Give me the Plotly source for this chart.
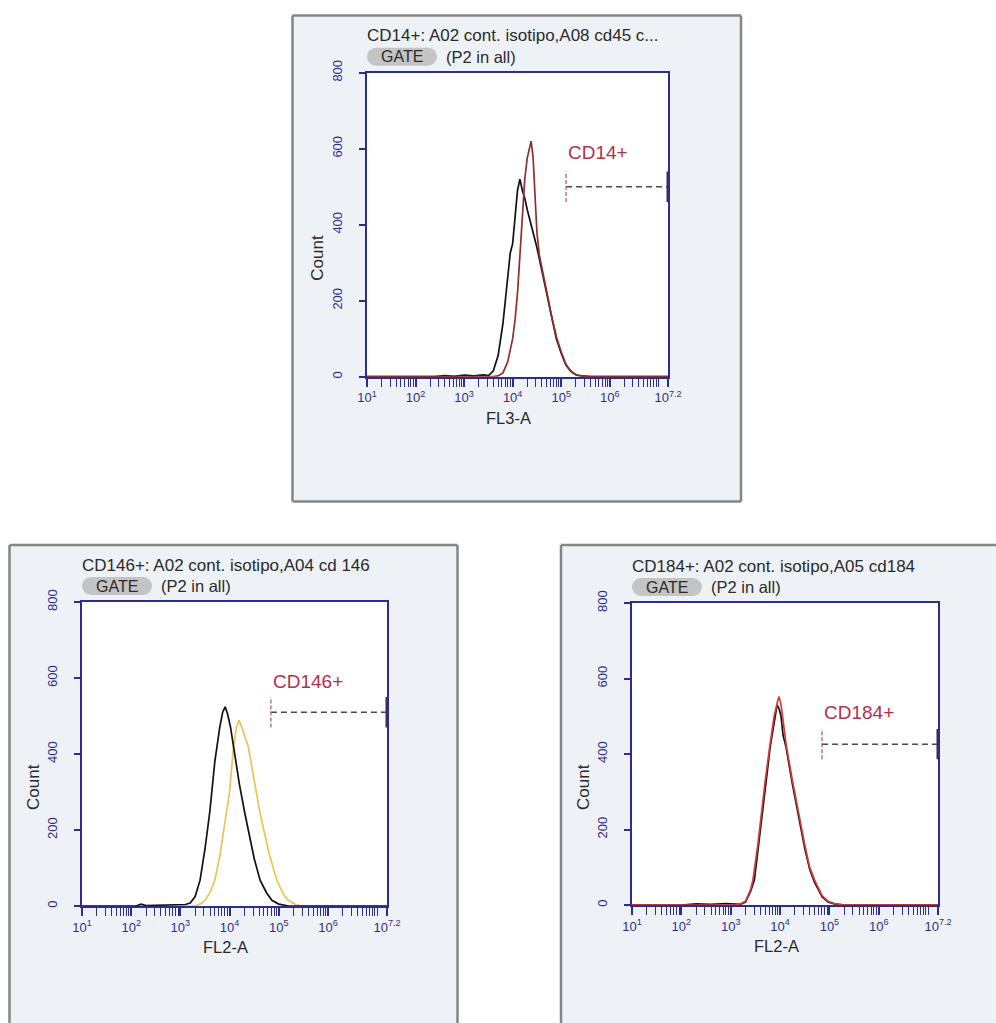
import plotly.graph_objects as go

# ---------------- data (log10 of channel value, event count) ----------------
TOP_ISO_LOG = [1.0, 2.4, 2.6, 2.8, 3.0, 3.2, 3.4, 3.5, 3.6, 3.7, 3.8, 3.9, 3.95, 4.0, 4.05, 4.1, 4.15,
               4.2, 4.25, 4.3, 4.4, 4.5, 4.6, 4.7, 4.8, 4.9, 5.0, 5.1, 5.2, 5.3, 5.4, 5.6, 7.2]
TOP_ISO_CNT = [0, 0, 3, 1, 4, 2, 5, 3, 15, 55, 140, 260, 325, 350, 420, 490, 520,
               490, 470, 440, 390, 340, 280, 220, 155, 100, 62, 30, 14, 5, 2, 0, 0]
TOP_CD14_LOG = [1.0, 3.6, 3.7, 3.8, 3.9, 4.0, 4.05, 4.1, 4.15, 4.2, 4.25, 4.3, 4.35, 4.38, 4.42,
                4.46, 4.5, 4.55, 4.6, 4.7, 4.8, 4.9, 5.0, 5.1, 5.2, 5.3, 5.4, 5.6, 7.2]
TOP_CD14_CNT = [0, 0, 2, 10, 40, 100, 150, 220, 320, 410, 520, 575, 600, 620, 580,
                480, 380, 320, 285, 225, 160, 105, 65, 32, 15, 5, 2, 0, 0]

BL_ISO_LOG = [1.0, 2.1, 2.2, 2.3, 2.5, 2.8, 3.0, 3.1, 3.2, 3.3, 3.4, 3.5, 3.6, 3.7, 3.8, 3.86, 3.91,
              3.96, 4.02, 4.08, 4.2, 4.31, 4.4, 4.5, 4.62, 4.75, 4.86, 5.0, 5.2, 7.2]
BL_ISO_CNT = [0, 0, 5, 1, 2, 3, 2, 4, 8, 25, 68, 150, 250, 380, 470, 510, 524,
              505, 470, 419, 320, 244, 185, 125, 68, 35, 15, 5, 0, 0]
BL_CD146_LOG = [1.0, 3.3, 3.4, 3.5, 3.6, 3.7, 3.8, 3.94, 4.0, 4.08, 4.14, 4.19, 4.25, 4.38, 4.5,
                4.62, 4.8, 4.96, 5.1, 5.19, 5.35, 5.5, 7.2]
BL_CD146_CNT = [0, 0, 5, 15, 35, 68, 130, 244, 300, 419, 470, 489, 470, 419, 330,
                244, 140, 68, 30, 15, 3, 0, 0]

BR_ISO_LOG = [1.0, 2.0, 2.3, 2.6, 2.9, 3.1, 3.2, 3.3, 3.4, 3.48, 3.57, 3.64, 3.72, 3.8, 3.88, 3.94,
              3.98, 4.02, 4.06, 4.12, 4.25, 4.36, 4.5, 4.6, 4.7, 4.85, 4.97, 5.1, 5.3, 7.2]
BR_ISO_CNT = [0, 0, 3, 2, 4, 3, 2, 8, 35, 66, 160, 243, 330, 419, 490, 530,
              520, 500, 450, 419, 320, 243, 150, 95, 60, 22, 8, 3, 0, 0]
BR_CD184_LOG = [1.0, 3.1, 3.2, 3.3, 3.4, 3.45, 3.55, 3.62, 3.7, 3.79, 3.88, 3.95, 3.98, 4.02, 4.08,
                4.13, 4.25, 4.37, 4.5, 4.6, 4.7, 4.85, 4.97, 5.1, 5.3, 7.2]
BR_CD184_CNT = [0, 0, 3, 10, 40, 66, 160, 243, 330, 419, 500, 540, 552, 530, 470,
                419, 330, 243, 160, 100, 66, 25, 10, 4, 0, 0]

GATE_NAMES = ["CD14+", "CD146+", "CD184+"]
GATE_START_LOG = [5.1, 4.84, 4.85]
GATE_LEVEL = [500, 510, 426]
GATE_LABEL_COUNT = [590, 590, 510]

TITLES = ["CD14+: A02 cont. isotipo,A08 cd45 c...",
          "CD146+: A02 cont. isotipo,A04 cd 146",
          "CD184+: A02 cont. isotipo,A05 cd184"]
X_TITLES = ["FL3-A", "FL2-A", "FL2-A"]
Y_TICKS = [0, 200, 400, 600, 800]
X_LABELED_DECADES = [1, 2, 3, 4, 5, 6]
X_MAX_LOG = 7.2

# ---------------- layout geometry (pixels) ----------------
W, H = 996, 1023
def PX(x): return x / W
def PY(y): return 1 - y / H

NAVY = "#2e2e8a"
PANEL_FILL = "#eef2f6"
BORDER = "#858585"
FONT = "Liberation Sans, Arial"

panels = [
    dict(box=(292.5, 15.5, 741, 501.5), sides="ltrb", plot=(367, 72.7, 668, 376.7),
         data=[(TOP_ISO_LOG, TOP_ISO_CNT, "#111111"), (TOP_CD14_LOG, TOP_CD14_CNT, "#8e2f2f")]),
    dict(box=(9.5, 545, 457.5, 1023), sides="ltr", plot=(82, 602, 387, 906),
         data=[(BL_CD146_LOG, BL_CD146_CNT, "#e6c55a"), (BL_ISO_LOG, BL_ISO_CNT, "#111111")]),
    dict(box=(561, 545, 996, 1023), sides="lt", plot=(632, 603, 938, 905),
         data=[(BR_ISO_LOG, BR_ISO_CNT, "#111111"), (BR_CD184_LOG, BR_CD184_CNT, "#d23a3a")]),
]

fig = go.Figure()
shapes = []
annotations = []

major_vals = [10 ** d for d in X_LABELED_DECADES] + [10 ** X_MAX_LOG]
major_text = ["10<sup>%d</sup>" % d for d in X_LABELED_DECADES] + ["10<sup>7.2</sup>"]
minor_vals = [m * 10 ** d for d in X_LABELED_DECADES for m in range(2, 10)] + [10 ** 7]

def pline(x0, y0, x1, y1, color, width):
    shapes.append(dict(type="line", xref="paper", yref="paper", layer="below",
                       x0=PX(x0), x1=PX(x1), y0=PY(y0), y1=PY(y1),
                       line=dict(color=color, width=width)))

for i, p in enumerate(panels):
    n = "" if i == 0 else str(i + 1)
    xa, ya = "x" + n, "y" + n
    bx0, by0, bx1, by1 = p["box"]
    px0, py0, px1, py1 = p["plot"]

    # panel background + border
    shapes.append(dict(type="rect", xref="paper", yref="paper", layer="below",
                       x0=PX(bx0), x1=PX(bx1), y0=PY(by1), y1=PY(by0),
                       fillcolor=PANEL_FILL, line=dict(width=0)))
    if "l" in p["sides"]:
        pline(bx0, by0, bx0, by1, BORDER, 2.5)
    if "t" in p["sides"]:
        pline(bx0, by0, bx1, by0, BORDER, 2.5)
    if "r" in p["sides"]:
        pline(bx1, by0, bx1, by1, BORDER, 2.5)
    if "b" in p["sides"]:
        pline(bx0, by1, bx1, by1, BORDER, 2.5)
    shapes.append(dict(type="rect", xref="paper", yref="paper", layer="below",
                       x0=PX(px0), x1=PX(px1), y0=PY(py1), y1=PY(py0),
                       fillcolor="white", line=dict(width=0)))

    # histogram traces
    for logs, cnts, col in p["data"]:
        fig.add_trace(go.Scatter(x=[10 ** v for v in logs], y=cnts, mode="lines",
                                 line=dict(color=col, width=1.7), xaxis=xa, yaxis=ya,
                                 showlegend=False, hoverinfo="skip"))

    # gate
    g0 = 10 ** GATE_START_LOG[i]
    g1 = 10 ** X_MAX_LOG
    lvl = GATE_LEVEL[i]
    fig.add_trace(go.Scatter(x=[g0, g1], y=[lvl, lvl], mode="lines",
                             line=dict(color="#4a4a4a", width=1.4, dash="6px,4px"),
                             xaxis=xa, yaxis=ya, showlegend=False, hoverinfo="skip"))
    fig.add_trace(go.Scatter(x=[g0, g0], y=[lvl - 40, lvl + 40], mode="lines",
                             line=dict(color="#b85a6a", width=1.3, dash="4px,2px"),
                             xaxis=xa, yaxis=ya, showlegend=False, hoverinfo="skip"))
    fig.add_trace(go.Scatter(x=[g1, g1], y=[lvl - 40, lvl + 40], mode="lines",
                             line=dict(color="#3a2a5a", width=3),
                             xaxis=xa, yaxis=ya, showlegend=False, hoverinfo="skip"))
    annotations.append(dict(xref=xa, yref=ya, x=GATE_START_LOG[i], y=GATE_LABEL_COUNT[i],
                            text=GATE_NAMES[i], showarrow=False, xanchor="left", yanchor="middle",
                            xshift=0, font=dict(family=FONT, size=19, color="#b0304e")))

    # axes
    fig.update_layout(**{
        "xaxis" + n: dict(domain=[PX(px0), PX(px1)], anchor=ya, type="log",
                          range=[1, X_MAX_LOG], tickmode="array", tickvals=major_vals,
                          ticktext=major_text, ticks="outside", ticklen=8, tickwidth=1.5,
                          tickcolor=NAVY, tickangle=0, showgrid=False, zeroline=False,
                          showline=True, mirror=True, linecolor=NAVY, linewidth=2,
                          automargin=False,
                          tickfont=dict(family=FONT, size=13, color=NAVY),
                          minor=dict(tickmode="array", tickvals=minor_vals, ticks="outside",
                                     ticklen=8, tickwidth=1.2, tickcolor=NAVY, showgrid=False)),
        "yaxis" + n: dict(domain=[PY(py1), PY(py0)], anchor=xa, range=[0, 800],
                          tickmode="array", tickvals=Y_TICKS, ticks="outside", ticklen=6,
                          tickwidth=1.5, tickcolor=NAVY, tickangle=-90, showgrid=False,
                          zeroline=False, showline=True, mirror=True, linecolor=NAVY,
                          linewidth=2, ticklabelstandoff=12, automargin=False,
                          tickfont=dict(family=FONT, size=13, color=NAVY)),
    })

    # texts
    annotations.append(dict(xref="paper", yref="paper", x=PX(px0 - 2), y=PY(py0 - 37),
                            text=TITLES[i], showarrow=False, xanchor="left", yanchor="middle",
                            font=dict(family=FONT, size=17, color="#2a2a2a")))
    # GATE pill
    gy0, gy1 = py0 - 25, py0 - 7
    gx0 = px0
    shapes.append(dict(type="circle", xref="paper", yref="paper", x0=PX(gx0), x1=PX(gx0 + 18),
                       y0=PY(gy1), y1=PY(gy0), fillcolor="#c4c4c4", line=dict(width=0)))
    shapes.append(dict(type="circle", xref="paper", yref="paper", x0=PX(gx0 + 52), x1=PX(gx0 + 70),
                       y0=PY(gy1), y1=PY(gy0), fillcolor="#c4c4c4", line=dict(width=0)))
    shapes.append(dict(type="rect", xref="paper", yref="paper", x0=PX(gx0 + 9), x1=PX(gx0 + 61),
                       y0=PY(gy1), y1=PY(gy0), fillcolor="#c4c4c4", line=dict(width=0)))
    annotations.append(dict(xref="paper", yref="paper", x=PX(gx0 + 35), y=PY((gy0 + gy1) / 2),
                            text="GATE", showarrow=False, xanchor="center", yanchor="middle",
                            font=dict(family=FONT, size=16, color="#2a2a2a")))
    annotations.append(dict(xref="paper", yref="paper", x=PX(gx0 + 77), y=PY((gy0 + gy1) / 2),
                            text="(P2 in all)", showarrow=False, xanchor="left", yanchor="middle",
                            font=dict(family=FONT, size=16.5, color="#2a2a2a")))
    # axis titles
    annotations.append(dict(xref="paper", yref="paper", x=PX(px0 - 49), y=PY((py0 + py1) / 2 + 33),
                            text="Count", showarrow=False, textangle=-90, xanchor="center",
                            yanchor="middle",
                            font=dict(family=FONT, size=17, color="#2a2a2a")))
    annotations.append(dict(xref="paper", yref="paper", x=PX((px0 + px1) / 2 - 9), y=PY(py1 + 41),
                            text=X_TITLES[i], showarrow=False, xanchor="center", yanchor="middle",
                            font=dict(family=FONT, size=16.5, color="#2a2a2a")))

fig.update_layout(width=W, height=H, margin=dict(l=0, r=0, t=0, b=0, pad=0, autoexpand=False),
                  paper_bgcolor="white", plot_bgcolor="white",
                  shapes=shapes, annotations=annotations, showlegend=False)

fig.write_html("out.html")
